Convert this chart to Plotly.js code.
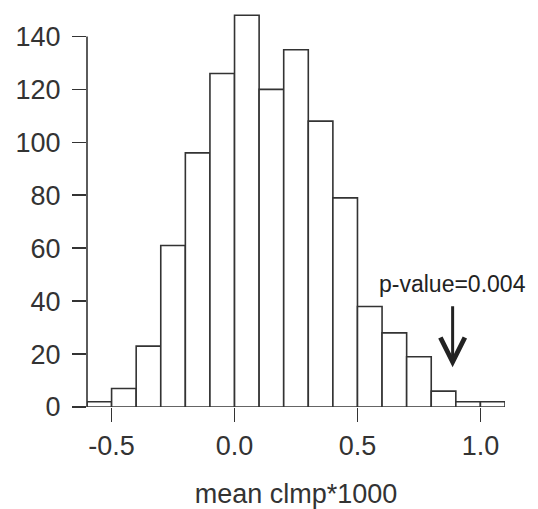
<!DOCTYPE html>
<html>
<head>
<meta charset="utf-8">
<script src="https://cdn.plot.ly/plotly-3.0.1.min.js"></script>
<style>html,body{margin:0;padding:0;background:#fff;}#chart{width:538px;height:509px;}</style>
</head>
<body>
<div id="chart"></div>
<script>
// Histogram bins (left edges) and counts
const binLeft = [-0.6, -0.5, -0.4, -0.3, -0.2, -0.1, 0.0, 0.1, 0.2, 0.3, 0.4, 0.5, 0.6, 0.7, 0.8, 0.9, 1.0];
const counts  = [2, 7, 23, 61, 96, 126, 148, 120, 135, 108, 79, 38, 28, 19, 6, 2, 2];
const binWidth = 0.1;

const xTickVals = [-0.5, 0.0, 0.5, 1.0];
const xTickText = ['-0.5', '0.0', '0.5', '1.0'];
const yTickVals = [0, 20, 40, 60, 80, 100, 120, 140];

const observed = 0.887;      // observed statistic (arrow position)
const arrowTip = 15, arrowTail = 38.4, labelY = 46.3;
const pLabel = 'p-value=0.004';
const xTitle = 'mean clmp*1000';

const FONT = 'Liberation Sans, Arial, Helvetica, sans-serif';
const INK = '#333333';

const trace = {
  type: 'bar',
  x: binLeft,
  y: counts,
  width: binLeft.map(() => binWidth),
  offset: 0,
  marker: {color: '#ffffff', line: {color: INK, width: 1.6}},
  hoverinfo: 'x+y'
};

const layout = {
  width: 538, height: 509,
  margin: {l: 87, r: 33, t: 10, b: 102},
  paper_bgcolor: '#ffffff', plot_bgcolor: '#ffffff',
  showlegend: false,
  bargap: 0,
  font: {family: FONT, color: INK, size: 27},
  xaxis: {
    range: [-0.6, 1.1],
    tickvals: xTickVals, ticktext: xTickText,
    ticks: 'outside', ticklen: 14, tickwidth: 1.6, tickcolor: INK,
    showline: false, showgrid: false, zeroline: false,
    tickfont: {family: FONT, size: 27, color: INK},
    ticklabelstandoff: 1,
    title: {text: xTitle, font: {family: FONT, size: 27, color: INK}, standoff: 24}
  },
  yaxis: {
    range: [0, 150],
    tickvals: yTickVals,
    ticks: 'outside', ticklen: 14, tickwidth: 1.6, tickcolor: INK,
    showline: false, showgrid: false, zeroline: false,
    tickfont: {family: FONT, size: 27, color: INK},
    ticklabelstandoff: 6
  },
  shapes: [{
    type: 'line', xref: 'paper', yref: 'y',
    x0: 0, x1: 0, y0: yTickVals[0], y1: yTickVals[yTickVals.length - 1],
    line: {color: INK, width: 1.6}
  }],
  annotations: [
    {
      x: observed, y: labelY, xref: 'x', yref: 'y',
      text: pLabel, showarrow: false,
      font: {family: FONT, size: 23, color: '#222222'},
      xanchor: 'center', yanchor: 'middle'
    },
    {
      x: observed, y: arrowTip, xref: 'x', yref: 'y',
      ax: observed, ay: arrowTail, axref: 'x', ayref: 'y',
      text: ' ', showarrow: true, font: {size: 1}, borderpad: 0,
      arrowhead: 5, arrowwidth: 3, arrowsize: 1.6, arrowcolor: '#222222',
      standoff: 0, startstandoff: 0
    }
  ]
};

Plotly.newPlot('chart', [trace], layout, {displayModeBar: false, staticPlot: true});
</script>
</body>
</html>
